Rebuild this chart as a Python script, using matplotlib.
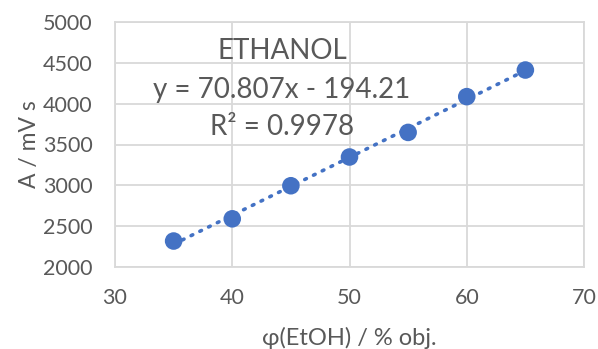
import numpy as np
import matplotlib.pyplot as plt

# data
phi = [35, 40, 45, 50, 55, 60, 65]
area = [2318, 2590, 2995, 3347, 3648, 4086, 4412]
xticks = [30, 40, 50, 60, 70]
yticks = [2000, 2500, 3000, 3500, 4000, 4500, 5000]

plt.rcParams['font.family'] = ['Lato', 'DejaVu Sans']
txt = '#595959'
grid = '#D9D9D9'
blue = '#4472C4'

fig = plt.figure(figsize=(5.98, 3.49), dpi=100)
ax = fig.add_axes([115/598, 82/349, 469/598, 245/349])

k, q = np.polyfit(phi, area, 1)
xf = np.array([min(phi), max(phi)])
ax.plot(xf, k*xf + q, color=blue, lw=2.6, linestyle=(0, (0.5, 2.2)),
        dash_capstyle='round', zorder=2)
ax.scatter(phi, area, s=160, color=blue, zorder=3, edgecolors='none')

ax.set_xlim(30, 70)
ax.set_ylim(2000, 5000)
ax.set_xticks(xticks)
ax.set_yticks(yticks)
ax.grid(True, color=grid, lw=1.3)
ax.set_axisbelow(True)
for s in ax.spines.values():
    s.set_color(grid)
    s.set_linewidth(1.3)
ax.tick_params(length=0, labelsize=15.5, colors=txt, pad=9)
ax.tick_params(axis='y', pad=16)
ax.tick_params(axis='x', pad=15)

ax.set_xlabel('φ(EtOH) / % obj.', fontsize=17, color=txt, labelpad=14)
ax.set_ylabel('A / mV s', fontsize=16.5, color=txt, labelpad=2)

ax.text(0.356, 0.882, 'ETHANOL', transform=ax.transAxes, ha='center', va='center',
        fontsize=20, color=txt)
ax.text(0.356, 0.722, 'y = 70.807x - 194.21', transform=ax.transAxes, ha='center',
        va='center', fontsize=20, color=txt)
ax.text(0.356, 0.571, 'R² = 0.9978', transform=ax.transAxes, ha='center',
        va='center', fontsize=20, color=txt)

fig.savefig('out.png', dpi=100)
